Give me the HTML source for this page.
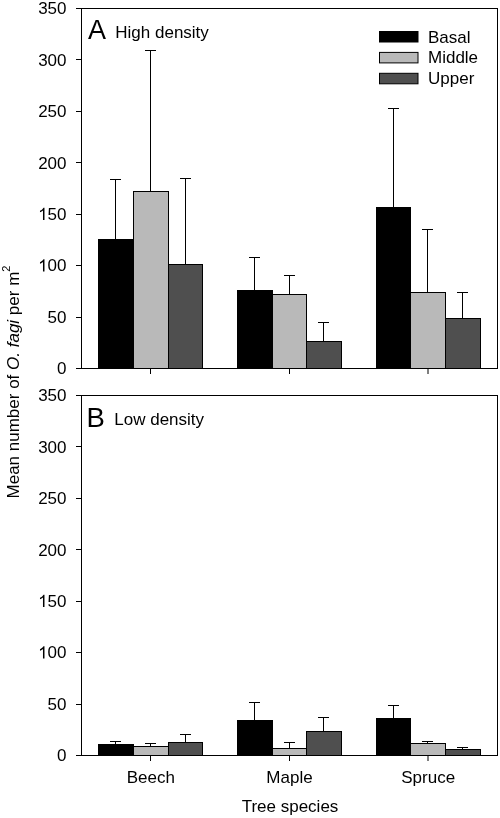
<!DOCTYPE html><html><head><meta charset="utf-8"><style>html,body{margin:0;padding:0;background:#fff;}svg{display:block;will-change:transform;}text{font-family:"Liberation Sans",sans-serif;fill:#000;}</style></head><body>
<svg width="500" height="818" viewBox="0 0 500 818">
<rect x="0" y="0" width="500" height="818" fill="#fff"/>
<line x1="115.5" y1="239" x2="115.5" y2="179.5" stroke="#000" stroke-width="1"/>
<line x1="110.0" y1="179.5" x2="121.0" y2="179.5" stroke="#000" stroke-width="1"/>
<rect x="98.5" y="239.5" width="35" height="129" fill="#000000" stroke="#000" stroke-width="1"/>
<line x1="150.5" y1="191" x2="150.5" y2="50.5" stroke="#000" stroke-width="1"/>
<line x1="145.0" y1="50.5" x2="156.0" y2="50.5" stroke="#000" stroke-width="1"/>
<rect x="133.5" y="191.5" width="35" height="177" fill="#b9b9b9" stroke="#000" stroke-width="1"/>
<line x1="185.5" y1="264" x2="185.5" y2="178.5" stroke="#000" stroke-width="1"/>
<line x1="180.0" y1="178.5" x2="191.0" y2="178.5" stroke="#000" stroke-width="1"/>
<rect x="168.5" y="264.5" width="34" height="104" fill="#4f4f4f" stroke="#000" stroke-width="1"/>
<line x1="150.5" y1="368.5" x2="150.5" y2="374" stroke="#000" stroke-width="1"/>
<line x1="254.5" y1="290" x2="254.5" y2="257.5" stroke="#000" stroke-width="1"/>
<line x1="249.0" y1="257.5" x2="260.0" y2="257.5" stroke="#000" stroke-width="1"/>
<rect x="237.5" y="290.5" width="35" height="78" fill="#000000" stroke="#000" stroke-width="1"/>
<line x1="289.5" y1="294" x2="289.5" y2="275.5" stroke="#000" stroke-width="1"/>
<line x1="284.0" y1="275.5" x2="295.0" y2="275.5" stroke="#000" stroke-width="1"/>
<rect x="272.5" y="294.5" width="34" height="74" fill="#b9b9b9" stroke="#000" stroke-width="1"/>
<line x1="323.5" y1="341" x2="323.5" y2="322.5" stroke="#000" stroke-width="1"/>
<line x1="318.0" y1="322.5" x2="329.0" y2="322.5" stroke="#000" stroke-width="1"/>
<rect x="306.5" y="341.5" width="35" height="27" fill="#4f4f4f" stroke="#000" stroke-width="1"/>
<line x1="289.5" y1="368.5" x2="289.5" y2="374" stroke="#000" stroke-width="1"/>
<line x1="393.5" y1="207" x2="393.5" y2="108.5" stroke="#000" stroke-width="1"/>
<line x1="388.0" y1="108.5" x2="399.0" y2="108.5" stroke="#000" stroke-width="1"/>
<rect x="376.5" y="207.5" width="34" height="161" fill="#000000" stroke="#000" stroke-width="1"/>
<line x1="427.5" y1="292" x2="427.5" y2="229.5" stroke="#000" stroke-width="1"/>
<line x1="422.0" y1="229.5" x2="433.0" y2="229.5" stroke="#000" stroke-width="1"/>
<rect x="410.5" y="292.5" width="35" height="76" fill="#b9b9b9" stroke="#000" stroke-width="1"/>
<line x1="462.5" y1="318" x2="462.5" y2="292.5" stroke="#000" stroke-width="1"/>
<line x1="457.0" y1="292.5" x2="468.0" y2="292.5" stroke="#000" stroke-width="1"/>
<rect x="445.5" y="318.5" width="35" height="50" fill="#4f4f4f" stroke="#000" stroke-width="1"/>
<line x1="428.0" y1="368.5" x2="428.0" y2="374" stroke="#000" stroke-width="1"/>
<rect x="81.5" y="8.5" width="416" height="360" fill="none" stroke="#000" stroke-width="1"/>
<line x1="76" y1="368.5" x2="81.5" y2="368.5" stroke="#000" stroke-width="1"/>
<text x="66.5" y="374.30" font-size="17" text-anchor="end">0</text>
<line x1="76" y1="317.5" x2="81.5" y2="317.5" stroke="#000" stroke-width="1"/>
<text x="66.5" y="322.87" font-size="17" text-anchor="end">50</text>
<line x1="76" y1="265.5" x2="81.5" y2="265.5" stroke="#000" stroke-width="1"/>
<path transform="translate(38.14,271.44) scale(0.00830,-0.00830)" d="M763 0L583 0L583 1147Q518 1085 412 1023Q306 961 222 930L222 1104Q373 1175 486 1276Q599 1377 646 1472L763 1472Z"/>
<text x="66.5" y="271.44" font-size="17" text-anchor="end">00</text>
<line x1="76" y1="214.5" x2="81.5" y2="214.5" stroke="#000" stroke-width="1"/>
<path transform="translate(38.14,220.01) scale(0.00830,-0.00830)" d="M763 0L583 0L583 1147Q518 1085 412 1023Q306 961 222 930L222 1104Q373 1175 486 1276Q599 1377 646 1472L763 1472Z"/>
<text x="66.5" y="220.01" font-size="17" text-anchor="end">50</text>
<line x1="76" y1="162.5" x2="81.5" y2="162.5" stroke="#000" stroke-width="1"/>
<text x="66.5" y="168.59" font-size="17" text-anchor="end">200</text>
<line x1="76" y1="111.5" x2="81.5" y2="111.5" stroke="#000" stroke-width="1"/>
<text x="66.5" y="117.16" font-size="17" text-anchor="end">250</text>
<line x1="76" y1="59.5" x2="81.5" y2="59.5" stroke="#000" stroke-width="1"/>
<text x="66.5" y="65.73" font-size="17" text-anchor="end">300</text>
<line x1="76" y1="8.5" x2="81.5" y2="8.5" stroke="#000" stroke-width="1"/>
<text x="66.5" y="14.30" font-size="17" text-anchor="end">350</text>
<text x="88" y="38.6" font-size="27">A</text>
<text x="115.3" y="38.1" font-size="17">High density</text>
<line x1="115.5" y1="744" x2="115.5" y2="741.5" stroke="#000" stroke-width="1"/>
<line x1="110.0" y1="741.5" x2="121.0" y2="741.5" stroke="#000" stroke-width="1"/>
<rect x="98.5" y="744.5" width="35" height="11" fill="#000000" stroke="#000" stroke-width="1"/>
<line x1="150.5" y1="746" x2="150.5" y2="743.5" stroke="#000" stroke-width="1"/>
<line x1="145.0" y1="743.5" x2="156.0" y2="743.5" stroke="#000" stroke-width="1"/>
<rect x="133.5" y="746.5" width="35" height="9" fill="#b9b9b9" stroke="#000" stroke-width="1"/>
<line x1="185.5" y1="742" x2="185.5" y2="734.5" stroke="#000" stroke-width="1"/>
<line x1="180.0" y1="734.5" x2="191.0" y2="734.5" stroke="#000" stroke-width="1"/>
<rect x="168.5" y="742.5" width="34" height="13" fill="#4f4f4f" stroke="#000" stroke-width="1"/>
<line x1="150.5" y1="755.5" x2="150.5" y2="761" stroke="#000" stroke-width="1"/>
<line x1="254.5" y1="720" x2="254.5" y2="702.5" stroke="#000" stroke-width="1"/>
<line x1="249.0" y1="702.5" x2="260.0" y2="702.5" stroke="#000" stroke-width="1"/>
<rect x="237.5" y="720.5" width="35" height="35" fill="#000000" stroke="#000" stroke-width="1"/>
<line x1="289.5" y1="748" x2="289.5" y2="742.5" stroke="#000" stroke-width="1"/>
<line x1="284.0" y1="742.5" x2="295.0" y2="742.5" stroke="#000" stroke-width="1"/>
<rect x="272.5" y="748.5" width="34" height="7" fill="#b9b9b9" stroke="#000" stroke-width="1"/>
<line x1="323.5" y1="731" x2="323.5" y2="717.5" stroke="#000" stroke-width="1"/>
<line x1="318.0" y1="717.5" x2="329.0" y2="717.5" stroke="#000" stroke-width="1"/>
<rect x="306.5" y="731.5" width="35" height="24" fill="#4f4f4f" stroke="#000" stroke-width="1"/>
<line x1="289.5" y1="755.5" x2="289.5" y2="761" stroke="#000" stroke-width="1"/>
<line x1="393.5" y1="718" x2="393.5" y2="705.5" stroke="#000" stroke-width="1"/>
<line x1="388.0" y1="705.5" x2="399.0" y2="705.5" stroke="#000" stroke-width="1"/>
<rect x="376.5" y="718.5" width="34" height="37" fill="#000000" stroke="#000" stroke-width="1"/>
<line x1="427.5" y1="743" x2="427.5" y2="741.5" stroke="#000" stroke-width="1"/>
<line x1="422.0" y1="741.5" x2="433.0" y2="741.5" stroke="#000" stroke-width="1"/>
<rect x="410.5" y="743.5" width="35" height="12" fill="#b9b9b9" stroke="#000" stroke-width="1"/>
<line x1="462.5" y1="749" x2="462.5" y2="747.5" stroke="#000" stroke-width="1"/>
<line x1="457.0" y1="747.5" x2="468.0" y2="747.5" stroke="#000" stroke-width="1"/>
<rect x="445.5" y="749.5" width="35" height="6" fill="#4f4f4f" stroke="#000" stroke-width="1"/>
<line x1="428.0" y1="755.5" x2="428.0" y2="761" stroke="#000" stroke-width="1"/>
<rect x="81.5" y="395.5" width="416" height="360" fill="none" stroke="#000" stroke-width="1"/>
<line x1="76" y1="755.5" x2="81.5" y2="755.5" stroke="#000" stroke-width="1"/>
<text x="66.5" y="761.30" font-size="17" text-anchor="end">0</text>
<line x1="76" y1="704.5" x2="81.5" y2="704.5" stroke="#000" stroke-width="1"/>
<text x="66.5" y="709.87" font-size="17" text-anchor="end">50</text>
<line x1="76" y1="652.5" x2="81.5" y2="652.5" stroke="#000" stroke-width="1"/>
<path transform="translate(38.14,658.44) scale(0.00830,-0.00830)" d="M763 0L583 0L583 1147Q518 1085 412 1023Q306 961 222 930L222 1104Q373 1175 486 1276Q599 1377 646 1472L763 1472Z"/>
<text x="66.5" y="658.44" font-size="17" text-anchor="end">00</text>
<line x1="76" y1="601.5" x2="81.5" y2="601.5" stroke="#000" stroke-width="1"/>
<path transform="translate(38.14,607.01) scale(0.00830,-0.00830)" d="M763 0L583 0L583 1147Q518 1085 412 1023Q306 961 222 930L222 1104Q373 1175 486 1276Q599 1377 646 1472L763 1472Z"/>
<text x="66.5" y="607.01" font-size="17" text-anchor="end">50</text>
<line x1="76" y1="549.5" x2="81.5" y2="549.5" stroke="#000" stroke-width="1"/>
<text x="66.5" y="555.59" font-size="17" text-anchor="end">200</text>
<line x1="76" y1="498.5" x2="81.5" y2="498.5" stroke="#000" stroke-width="1"/>
<text x="66.5" y="504.16" font-size="17" text-anchor="end">250</text>
<line x1="76" y1="446.5" x2="81.5" y2="446.5" stroke="#000" stroke-width="1"/>
<text x="66.5" y="452.73" font-size="17" text-anchor="end">300</text>
<line x1="76" y1="395.5" x2="81.5" y2="395.5" stroke="#000" stroke-width="1"/>
<text x="66.5" y="401.30" font-size="17" text-anchor="end">350</text>
<text x="86.6" y="427.4" font-size="27.5">B</text>
<text x="114.3" y="424.8" font-size="17">Low density</text>
<text x="150.83" y="782.8" font-size="17" text-anchor="middle">Beech</text>
<text x="289.50" y="782.8" font-size="17" text-anchor="middle">Maple</text>
<text x="428.17" y="782.8" font-size="17" text-anchor="middle">Spruce</text>
<text x="290" y="812.3" font-size="17" text-anchor="middle">Tree species</text>
<text transform="translate(19,382) rotate(-90)" font-size="17" text-anchor="middle">Mean number of <tspan font-style="italic">O. fagi</tspan> per m<tspan font-size="11" dy="-9.2">2</tspan></text>
<rect x="379.5" y="31.50" width="38.5" height="10.5" fill="#000000" stroke="#000" stroke-width="1"/>
<text x="428" y="42.50" font-size="17">Basal</text>
<rect x="379.5" y="52.40" width="38.5" height="10.5" fill="#b9b9b9" stroke="#000" stroke-width="1"/>
<text x="428" y="63.40" font-size="17">Middle</text>
<rect x="379.5" y="73.30" width="38.5" height="10.5" fill="#4f4f4f" stroke="#000" stroke-width="1"/>
<text x="428" y="84.30" font-size="17">Upper</text>
</svg></body></html>
